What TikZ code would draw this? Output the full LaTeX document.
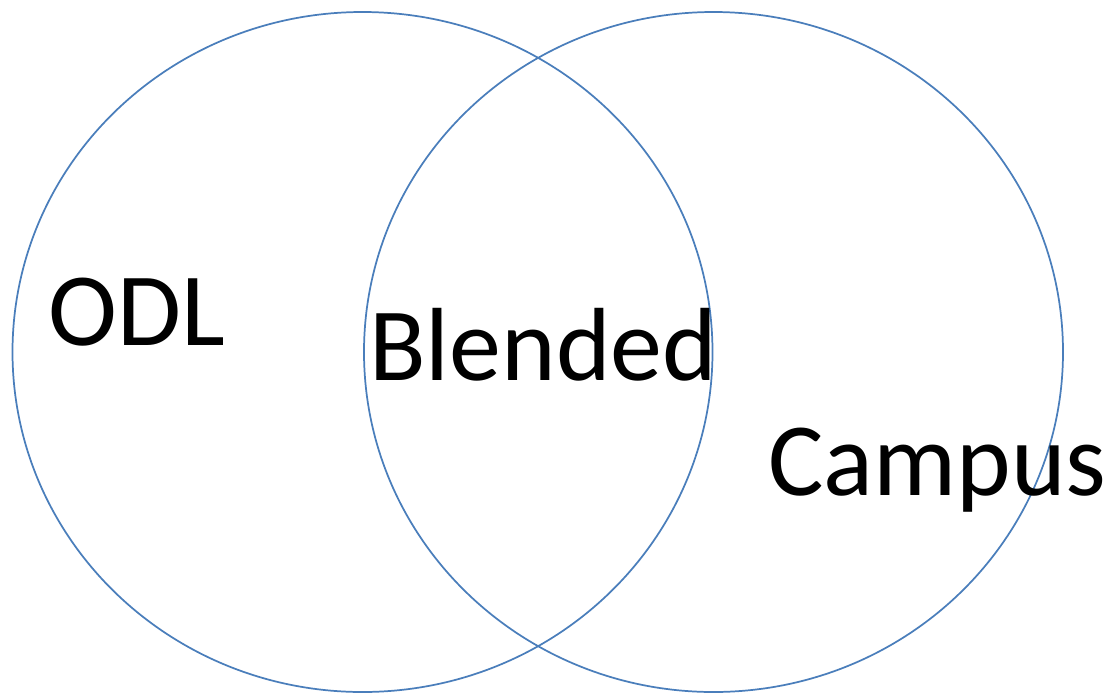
\documentclass[tikz,border=0pt]{standalone}
\usepackage{fontspec}
\setmainfont{Carlito}
\usetikzlibrary{positioning}
\definecolor{setblue}{HTML}{4A7EBB}

\begin{document}
\begin{tikzpicture}[x=0.75pt,y=-0.75pt,
    set line/.style={draw=setblue,line width=1.3pt},
    set label/.style={anchor=base west,inner sep=0pt,font=\fontsize{78}{82}\selectfont}]
   \useasboundingbox (0,0) rectangle (1115,694);

   % the two sets
   \draw[set line] (362.5,352) ellipse [x radius=350,y radius=340];
   \draw[set line] (713.5,352) ellipse [x radius=349.5,y radius=340];

   % labels
   \node[set label] (odl) at (48,345) {ODL};
   \node[set label] (blended) at (369,380) {Blended};
   \node[set label] (campus) at (768,495) {Campus};
  \end{tikzpicture}
\end{document}
